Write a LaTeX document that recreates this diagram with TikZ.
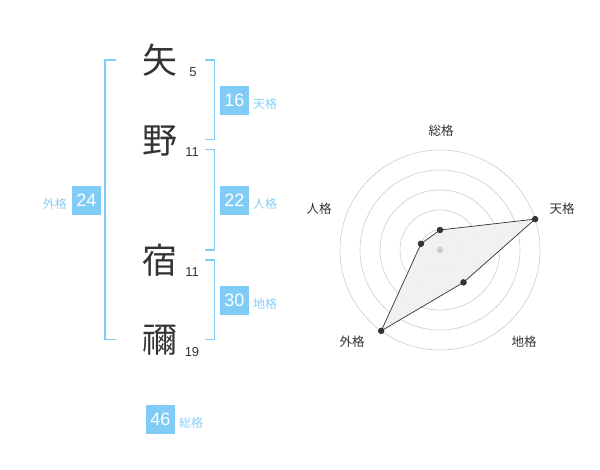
\documentclass[tikz,border=0pt]{standalone}
\usepackage{fontspec}
\setmainfont{Liberation Sans}
\newfontfamily\cjk{Noto Sans CJK JP}
\definecolor{boxblue}{HTML}{80CCF7}
\definecolor{lblblue}{HTML}{88CFF5}
\definecolor{inkgray}{HTML}{333333}
\definecolor{ringgray}{HTML}{CCCCCC}
\tikzset{
  kanji/.style={font=\cjk\fontsize{35}{35}\selectfont, text=inkgray, inner sep=0pt},
  strokes/.style={font=\fontsize{13}{13}\selectfont, text=inkgray, inner sep=0pt},
  numbox/.style={fill=boxblue, text=white, minimum width=29pt, minimum height=29pt, inner sep=0pt, font=\fontsize{18}{18}\selectfont},
  kaku/.style={text=lblblue, font=\cjk\fontsize{12}{12}\selectfont, inner sep=0pt},
  bracket/.style={draw=boxblue, line width=1.6pt},
  ring/.style={draw=ringgray, line width=0.6pt},
  axislbl/.style={text=inkgray, font=\cjk\fontsize{12.5}{12.5}\selectfont, inner sep=0pt},
  vdot/.style={circle, fill=inkgray, inner sep=0pt, minimum size=6.5pt},
  radarpoly/.style={draw=inkgray, line width=0.7pt, fill=black!6, fill opacity=0.9},
}
\begin{document}
\begin{tikzpicture}[x=1pt,y=-1pt]
\useasboundingbox (0,0) rectangle (600,470);
% characters
\node[kanji] (c1) at (160,60) {矢};
\node[kanji] (c2) at (160,141) {野};
\node[kanji] (c3) at (160,260) {宿};
\node[kanji] (c4) at (160,340) {禰};
\node[strokes] (s1) at (193,72.5) {5};
\node[strokes] (s2) at (192,152.5) {11};
\node[strokes] (s3) at (192,272.5) {11};
\node[strokes] (s4) at (192,352.5) {19};
% brackets
\draw[bracket] (116,60) -- (105,60) -- (105,339.5) -- (116,339.5);
\draw[bracket] (205,60) -- (214.5,60) -- (214.5,139.5) -- (205,139.5);
\draw[bracket] (205,149.5) -- (214.5,149.5) -- (214.5,250) -- (205,250);
\draw[bracket] (205,260) -- (214.5,260) -- (214.5,339.5) -- (205,339.5);
% boxes
\node[numbox] (ten) at (234.5,100.5) {16};
\node[kaku, anchor=west] (tenl) at (253,104) {天格};
\node[numbox] (jin) at (234.5,200.5) {22};
\node[kaku, anchor=west] (jinl) at (253,204) {人格};
\node[numbox] (chi) at (234.5,300.5) {30};
\node[kaku, anchor=west] (chil) at (253,304) {地格};
\node[numbox] (gai) at (86.5,200.5) {24};
\node[kaku, anchor=east] (gail) at (67,204) {外格};
\node[numbox] (sou) at (160.5,419.5) {46};
\node[kaku, anchor=west] (soul) at (179,422.5) {総格};
% radar
\coordinate (ctr) at (440,250);
\foreach \r in {20,40,60,80,100} \draw[ring] (ctr) circle[radius=\r pt];
\path (ctr) ++(90:20pt) coordinate (pSou);
\path (ctr) ++(18:100pt) coordinate (pTen);
\path (ctr) ++(-54:40pt) coordinate (pChi);
\path (ctr) ++(-126:100pt) coordinate (pGai);
\path (ctr) ++(162:20pt) coordinate (pJin);
\path[radarpoly] (pSou) -- (pTen) -- (pChi) -- (pGai) -- (pJin) -- cycle;
\fill[ringgray] (ctr) circle[radius=3.2pt];
\foreach \p in {pSou,pTen,pChi,pGai,pJin} \node[vdot] at (\p) {};
\node[axislbl] (lSou) at (441,130.5) {総格};
\node[axislbl] (lTen) at (562,209) {天格};
\node[axislbl] (lJin) at (319,209) {人格};
\node[axislbl] (lGai) at (352,342) {外格};
\node[axislbl] (lChi) at (524,342) {地格};
\end{tikzpicture}
\end{document}
